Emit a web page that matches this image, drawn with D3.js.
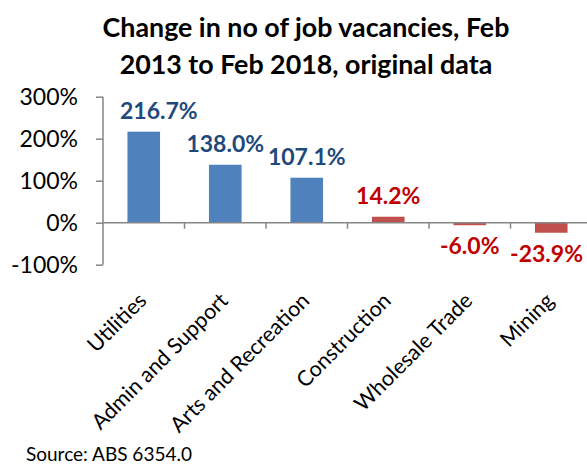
<!DOCTYPE html>
<html>
<head>
<meta charset="utf-8">
<script src="https://cdn.jsdelivr.net/npm/d3@7"></script>
<style>
  body { margin: 0; background: #fff; }
  svg { display: block; font-family: Lato, "Open Sans", sans-serif; }
</style>
</head>
<body>
<svg id="chart" width="587" height="464"></svg>
<script>
let categories = ['Utilities', 'Admin and Support', 'Arts and Recreation', 'Construction', 'Wholesale Trade', 'Mining'];
let changes = [216.7, 138.0, 107.1, 14.2, -6.0, -23.9];
let labelColours = ['#1F497D', '#1F497D', '#1F497D', '#C00000', '#C00000', '#C00000'];
let barColours = ['#4F81BD', '#4F81BD', '#4F81BD', '#C0504D', '#C0504D', '#C0504D'];
let yTicks = [-100, 0, 100, 200, 300];
let titleLines = ['Change in no of job vacancies, Feb', '2013 to Feb 2018, original data'];

let width = 587;
let svg = d3.select('#chart');

let x = d3.scaleBand()
          .domain(categories)
          .range([103, 592])
          .paddingInner(0.6)
          .paddingOuter(0.3);

let y = d3.scaleLinear()
          .domain([-100, 300])
          .range([264.7, 96.7]);

// title
svg.append('g')
    .selectAll('text')
    .data(titleLines)
    .enter()
    .append('text')
    .attr('x', 306)
    .attr('y', (d, i) => 37 + i * 36.5)
    .attr('text-anchor', 'middle')
    .style('font-weight', 'bold')
    .style('font-size', '26.8px')
    .text(d => d);

// y axis
let yAxis = d3.axisLeft(y)
              .tickValues(yTicks)
              .tickSize(7)
              .tickPadding(18)
              .tickFormat(d => d + '%');

svg.append('g')
    .attr('transform', 'translate(103,0)')
    .call(yAxis)
    .call(g => g.selectAll('.domain').attr('stroke', '#868686').attr('stroke-width', 1.5).attr('d', 'M0,' + y(-100) + 'V' + y(300)))
    .call(g => g.selectAll('line').attr('stroke', '#868686').attr('stroke-width', 1.5))
    .call(g => g.selectAll('text').style('font-size', '23px').style('font-family', 'Lato, sans-serif').attr('fill', '#000'));

// bars
svg.append('g')
    .selectAll('rect')
    .data(changes)
    .enter()
    .append('rect')
    .attr('x', (d, i) => x(categories[i]))
    .attr('width', x.bandwidth())
    .attr('y', d => y(Math.max(0, d)))
    .attr('height', d => Math.abs(y(d) - y(0)))
    .attr('fill', (d, i) => barColours[i]);

// zero line with category ticks
let step = x.step();
let boundaries = d3.range(categories.length + 1).map(i => x.range()[0] + i * step);

let zeroLine = svg.append('g');
zeroLine.append('line')
    .attr('x1', 103)
    .attr('x2', 592)
    .attr('y1', y(0))
    .attr('y2', y(0))
    .attr('stroke', '#868686')
    .attr('stroke-width', 1.5);
zeroLine.selectAll('.tick')
    .data(boundaries.slice(1, -1))
    .enter()
    .append('line')
    .attr('x1', d => d)
    .attr('x2', d => d)
    .attr('y1', y(0))
    .attr('y2', y(0) + 6)
    .attr('stroke', '#868686')
    .attr('stroke-width', 1.5);

// data labels
let labels = svg.append('g')
    .selectAll('text')
    .data(changes)
    .enter()
    .append('text')
    .attr('text-anchor', 'middle')
    .style('font-weight', 'bold')
    .style('font-size', '23px')
    .attr('fill', (d, i) => labelColours[i])
    .text(d => d.toFixed(1) + '%')
    .attr('y', d => d >= 0 ? y(d) - 13 : y(d) + 29);

labels.attr('x', function (d, i) {
    let w = this.getComputedTextLength();
    let cx = x(categories[i]) + x.bandwidth() / 2;
    cx = Math.max(cx, 103 + w / 2 + 17);
    cx = Math.min(cx, width - w / 2 - 4);
    return cx;
});

// category labels
svg.append('g')
    .selectAll('text')
    .data(categories)
    .enter()
    .append('text')
    .attr('transform', d => 'translate(' + (x(d) + x.bandwidth() / 2 + 4) + ',' + 302 + ') rotate(-45)')
    .attr('text-anchor', 'end')
    .style('font-size', '21.5px')
    .text(d => d);

// source
svg.append('text')
    .attr('x', 26)
    .attr('y', 461)
    .style('font-size', '19px')
    .text('Source: ABS 6354.0');
</script>
</body>
</html>
